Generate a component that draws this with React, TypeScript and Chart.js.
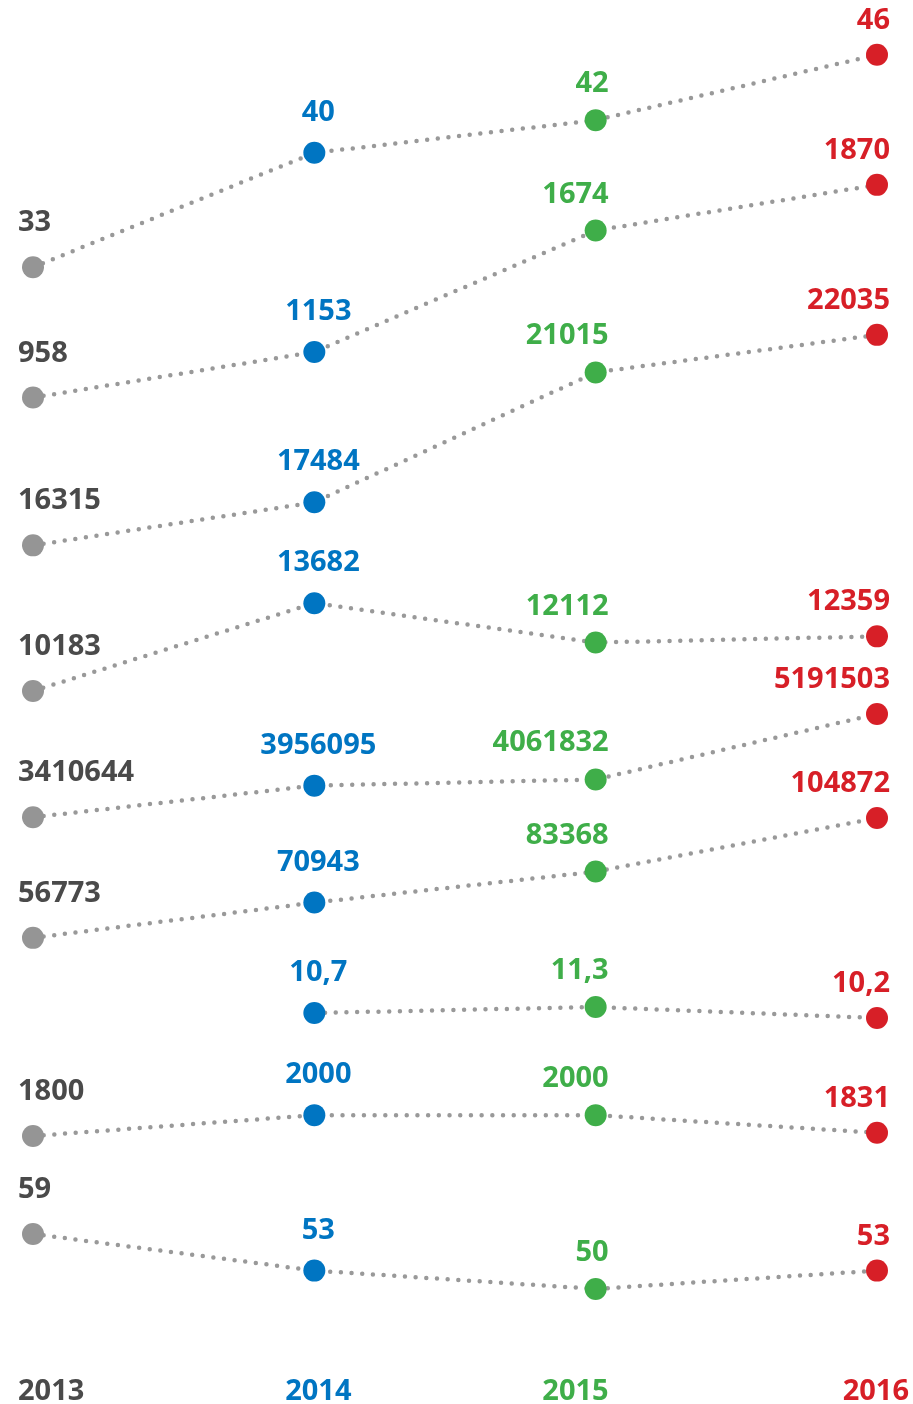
import React, { useEffect, useRef } from "react";
import { Chart, registerables } from "chart.js";

Chart.register(...registerables);

// ---- data ----
const years = ["2013", "2014", "2015", "2016"];
const row1 = [33, 40, 42, 46];
const row2 = [958, 1153, 1674, 1870];
const row3 = [16315, 17484, 21015, 22035];
const row4 = [10183, 13682, 12112, 12359];
const row5 = [3410644, 3956095, 4061832, 5191503];
const row6 = [56773, 70943, 83368, 104872];
const row7 = [null, 10.7, 11.3, 10.2];
const row8 = [1800, 2000, 2000, 1831];
const row9 = [59, 53, 50, 53];
const rows: (number | null)[][] = [row1, row2, row3, row4, row5, row6, row7, row8, row9];

// ---- styling / scale config ----
const yearColors = ["#959595", "#0075c2", "#3fae49", "#d71f27"];
const labelColors = ["#4a4a4a", "#0075c2", "#3fae49", "#d71f27"];
// each row has its own hidden value axis [min, max]
const rowRanges: [number, number][] = [
  [-33.97, 49.35],
  [-3177.4, 2662.6],
  [-5876.8, 31135],
  [-16568, 37727],
  [-5984765, 17506094],
  [-113440, 433152],
  [-24.2, 112],
  [-367.8, 12695.7],
  [38.03, 261.11],
];
const FONT = '"Open Sans", "DejaVu Sans", sans-serif';

const fmt = (v: number) => String(v).replace(".", ",");

// text x position for column j, given anchor pixel x and text width w
function textLeft(j: number, x: number, w: number, W: number) {
  let left: number;
  if (j === 0) left = x - 15;
  else if (j === 1) left = x + 4 - w / 2;
  else left = x + 13 - w;
  if (left + w > W - 4) left = W - 4 - w;
  if (left < 4) left = 4;
  return left;
}

const labelPlugin = {
  id: "pointLabels",
  afterDatasetsDraw(chart: any) {
    const ctx = chart.ctx;
    const W = chart.width;
    ctx.save();
    ctx.font = `bold 29px ${FONT}`;
    ctx.textBaseline = "alphabetic";
    ctx.textAlign = "left";
    const offsets = [36, 32, 28, 26];
    rows.forEach((row, i) => {
      const meta = chart.getDatasetMeta(i);
      row.forEach((v, j) => {
        if (v === null) return;
        const pt = meta.data[j];
        if (!pt) return;
        const text = fmt(v);
        const w = ctx.measureText(text).width;
        ctx.fillStyle = labelColors[j];
        ctx.fillText(text, textLeft(j, pt.x, w, W), pt.y - offsets[j]);
      });
    });
    // year labels along the bottom, positioned by the x scale
    const xs = chart.scales.x;
    years.forEach((yr, j) => {
      const x = xs.getPixelForTick(j);
      const w = ctx.measureText(yr).width;
      let left = j === 3 ? x - w / 2 : textLeft(j, x, w, W);
      if (j === 0) left = x - 15;
      if (left + w > W - 4) left = W - 4 - w;
      ctx.fillStyle = labelColors[j];
      ctx.fillText(yr, left, chart.height - 4);
    });
    ctx.restore();
  },
};

export default function App() {
  const canvasRef = useRef<HTMLCanvasElement | null>(null);

  useEffect(() => {
    if (!canvasRef.current) return;
    const scales: any = {
      x: {
        type: "category",
        offset: false,
        display: false,
      },
    };
    rows.forEach((_, i) => {
      scales["y" + i] = {
        type: "linear",
        display: false,
        min: rowRanges[i][0],
        max: rowRanges[i][1],
      };
    });
    const chart = new Chart(canvasRef.current, {
      type: "line",
      data: {
        labels: years,
        datasets: rows.map((row, i) => ({
          data: row,
          yAxisID: "y" + i,
          borderColor: "#999999",
          borderWidth: 4.5,
          borderDash: [0, 10.7],
          borderCapStyle: "round",
          spanGaps: false,
          tension: 0,
          fill: false,
          clip: false,
          pointRadius: 11,
          pointHoverRadius: 11,
          pointBorderWidth: 0,
          pointBackgroundColor: yearColors,
          pointBorderColor: yearColors,
        })),
      },
      options: {
        responsive: true,
        maintainAspectRatio: false,
        animation: false,
        layout: { autoPadding: false, padding: { left: 33, right: 36, top: 0, bottom: 42 } },
        plugins: {
          legend: { display: false },
          tooltip: { enabled: false },
        },
        scales,
      },
      plugins: [labelPlugin],
    } as any);
    return () => chart.destroy();
  }, []);

  return (
    <div
      style={{
        position: "absolute",
        left: 0,
        top: 0,
        width: 913,
        height: 1404,
        background: "#ffffff",
      }}
    >
      <canvas ref={canvasRef} />
    </div>
  );
}
